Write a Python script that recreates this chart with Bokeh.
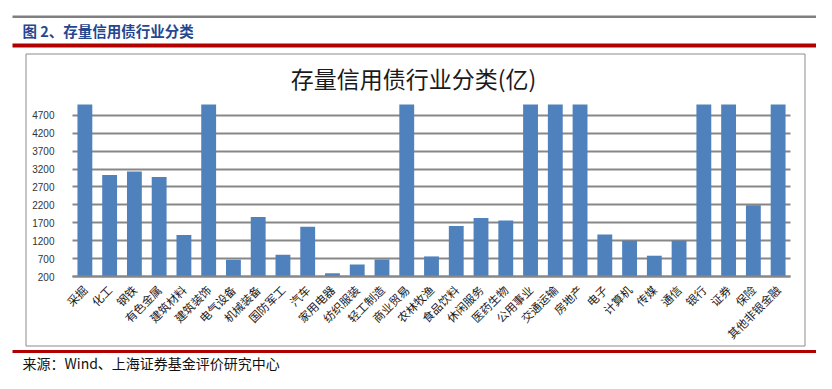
from math import pi
from bokeh.plotting import figure
from bokeh.models import Range1d, FixedTicker
from bokeh.core.properties import value
from bokeh.embed import file_html
from bokeh.resources import INLINE

# ---- data (亿元); bars marked 5000 run past the top of the axis in the source ----
industries = ["采掘", "化工", "钢铁", "有色金属", "建筑材料", "建筑装饰", "电气设备", "机械装备",
              "国防军工", "汽车", "家用电器", "纺织服装", "轻工制造", "商业贸易", "农林牧渔",
              "食品饮料", "休闲服务", "医药生物", "公用事业", "交通运输", "房地产", "电子",
              "计算机", "传媒", "通信", "银行", "证券", "保险", "其他非银金融"]
credit_bonds = [5000, 3030, 3130, 2980, 1360, 5000, 665, 1860,
                805, 1585, 290, 535, 675, 5000, 760,
                1610, 1830, 1760, 5000, 5000, 5000, 1370,
                1200, 780, 1200, 5000, 5000, 2190, 5000]
y_ticks = [200, 700, 1200, 1700, 2200, 2700, 3200, 3700, 4200, 4700]
y_min, y_max = 200, 5000

header_title = "图 2、存量信用债行业分类"
chart_title = "存量信用债行业分类(亿)"
source_note = "来源：Wind、上海证券基金评价研究中心"

CJK = "Noto Sans CJK SC"
GRID = "#878787"

# ---- layout (canvas pixels) ----
W, H = 816, 373
PL, PR, PT, PB = 72, 790, 104, 276          # plot area
n = len(industries)
slot = (PR - PL) / n                        # px per category
k = (PB - PT) / (y_max - y_min)             # px per unit

def px_x(X):
    return (X - PL) / slot - 0.5

def px_y(Y):
    return y_min + (PB - Y) / k

positions = list(range(n))

p = figure(width=W, height=H,
           x_range=Range1d(px_x(0), px_x(W)),
           y_range=Range1d(px_y(H), px_y(0)),
           output_backend="svg", toolbar_location=None,
           min_border=0, min_border_left=0, min_border_right=0,
           min_border_top=0, min_border_bottom=0)
p.outline_line_color = None
p.background_fill_color = "white"
p.border_fill_color = "white"

# ---- page decorations ----
def band(X0, X1, Y0, Y1, color):
    p.quad(left=[px_x(X0)], right=[px_x(X1)], top=[px_y(Y0)], bottom=[px_y(Y1)],
           fill_color=color, line_color=None)

band(12, 816, 15, 17.5, "#808080")      # top grey rule
band(12, 816, 43, 47, "#B00000")        # red rule under header
band(12, 816, 349.5, 352.5, "#B00000")  # red rule above source

p.quad(left=[px_x(25.5)], right=[px_x(804.5)], top=[px_y(53.5)], bottom=[px_y(345.5)],
       fill_color=None, line_color="#8C8C8C", line_width=1)

p.text(x=[px_x(22)], y=[px_y(30)], text=[header_title],
       text_font=value(CJK), text_font_size="14.5px", text_font_style="bold",
       text_color="#24478F", text_align="left", text_baseline="middle")
p.text(x=[px_x(413)], y=[px_y(77)], text=[chart_title],
       text_font=value(CJK), text_font_size="23px",
       text_color="#1a1a1a", text_align="center", text_baseline="middle")
p.text(x=[px_x(22)], y=[px_y(362)], text=[source_note],
       text_font=value(CJK), text_font_size="14px",
       text_color="#111111", text_align="left", text_baseline="middle")

# ---- bars ----
p.vbar(x=positions, top=credit_bonds, bottom=y_min, width=0.6,
       fill_color="#4F81BD", line_color=None)

# ---- grid ----
p.xgrid.grid_line_color = None
g = p.ygrid[0]
g.ticker = FixedTicker(ticks=y_ticks)
if "cross_bounds" in g.properties():
    g.cross_bounds = (-0.5, n - 0.5)
    g.grid_line_color = GRID
    g.grid_line_width = 2
else:
    g.grid_line_color = None
    p.segment(x0=[-0.5] * len(y_ticks), x1=[n - 0.5] * len(y_ticks),
              y0=y_ticks, y1=y_ticks, line_color=GRID, line_width=2, level="underlay")

# ---- axes (drawn inside the full-canvas frame) ----
ya = p.yaxis[0]
ya.fixed_location = -0.5
ya.ticker = FixedTicker(ticks=y_ticks)
ya.axis_line_color = None
ya.major_tick_line_color = None
ya.minor_tick_line_color = None
ya.major_label_standoff = 12
ya.major_label_text_font = "Liberation Sans"
ya.major_label_text_font_size = "10px"
ya.major_label_text_color = "#333333"

xa = p.xaxis[0]
xa.fixed_location = y_min
xa.bounds = (-0.5, n - 0.5)
xa.ticker = FixedTicker(ticks=positions)
xa.major_label_overrides = {i: name for i, name in zip(positions, industries)}
xa.axis_line_color = GRID
xa.axis_line_width = 2
xa.major_tick_line_color = None
xa.minor_tick_line_color = None
xa.major_label_orientation = pi / 4
xa.major_label_standoff = 5
xa.major_label_text_font = CJK
xa.major_label_text_font_size = "11.5px"
xa.major_label_text_color = "#1a1a1a"

open("out.html", "w").write(file_html(p, INLINE))
